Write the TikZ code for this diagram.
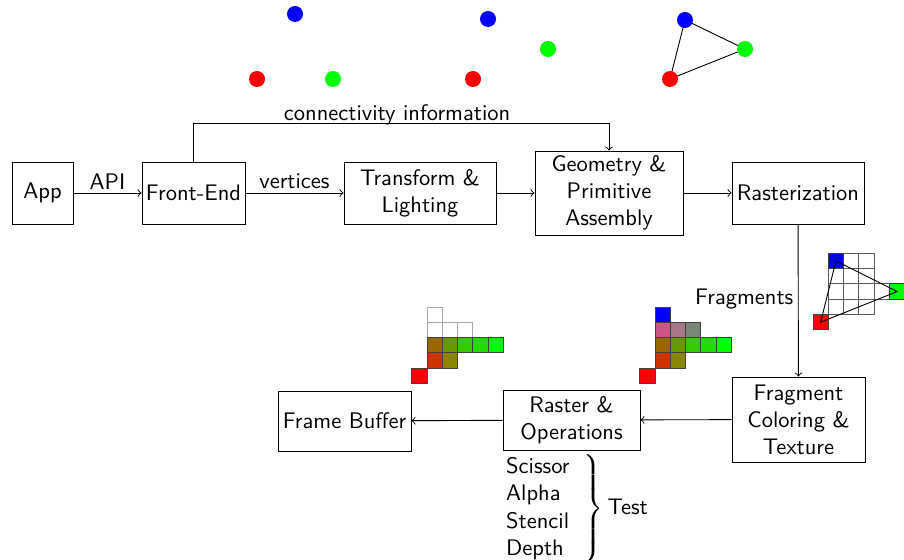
\documentclass[tikz,border=0pt]{standalone}
\renewcommand{\familydefault}{\sfdefault}
\usetikzlibrary{calc}
\definecolor{cPink}{RGB}{204,85,140}
\definecolor{cMauve}{RGB}{170,119,136}
\definecolor{cGrayGreen}{RGB}{119,136,119}
\definecolor{cBrown}{RGB}{153,102,0}
\definecolor{cOliveGreen}{RGB}{102,153,0}
\definecolor{cGreenA}{RGB}{51,204,0}
\definecolor{cGreenB}{RGB}{34,221,0}
\definecolor{cGreenC}{RGB}{0,255,0}
\definecolor{cOrange}{RGB}{204,51,0}
\definecolor{cOlive}{RGB}{136,136,0}
\definecolor{cRed}{RGB}{255,0,0}
\definecolor{cBlue}{RGB}{0,0,255}
\newcommand{\pxcell}[3]{\filldraw[fill=#3,draw=black!75] ({#1*15.3},{#2*15.3}) rectangle ++(15.3,15.3);}
\newcommand{\pxempty}[2]{\draw[draw=black!35] ({#1*15.3},{#2*15.3}) rectangle ++(15.3,15.3);}
\newcommand{\pxgrid}[2]{\draw[draw=black!65] ({#1*15.3},{#2*15.3}) rectangle ++(15.3,15.3);}
\begin{document}
\begin{tikzpicture}[x=0.4444pt,y=-0.4444pt,
  stage/.style={draw,align=center,inner sep=0pt},
  conn/.style={->},
  dotv/.style={circle,inner sep=0pt,minimum size={16*0.4444pt}}]
\useasboundingbox (0,0) rectangle (904,560);

% vertex clusters
\node[dotv,fill=cBlue] (b1) at (295,14) {};
\node[dotv,fill=cRed] (r1) at (257,79) {};
\node[dotv,fill=cGreenC] (g1) at (333,79) {};
\node[dotv,fill=cBlue] (b2) at (488,19) {};
\node[dotv,fill=cGreenC] (g2) at (548,49) {};
\node[dotv,fill=cRed] (r2) at (473,79) {};
\coordinate (b3c) at (685,20);
\coordinate (g3c) at (745,49);
\coordinate (r3c) at (670,79);
\draw (b3c) -- (g3c) -- (r3c) -- cycle;
\node[dotv,fill=cBlue] (b3) at (b3c) {};
\node[dotv,fill=cGreenC] (g3) at (g3c) {};
\node[dotv,fill=cRed] (r3) at (r3c) {};

% stages
\node[stage,minimum width={61*0.4444pt},minimum height={62*0.4444pt}] (app) at (42.5,193) {App};
\node[stage,minimum width={103*0.4444pt},minimum height={62*0.4444pt}] (fe) at (193.5,193) {Front-End};
\node[stage,minimum width={152*0.4444pt},minimum height={62*0.4444pt}] (tl) at (420,193) {Transform \&\\Lighting};
\node[stage,minimum width={148*0.4444pt},minimum height={84*0.4444pt}] (geo) at (609,193) {Geometry \&\\Primitive\\Assembly};
\node[stage,minimum width={132*0.4444pt},minimum height={62*0.4444pt}] (ras) at (798,193) {Rasterization};
\node[stage,minimum width={133*0.4444pt},minimum height={85*0.4444pt}] (frag) at (798.5,419.5) {Fragment\\Coloring \&\\Texture};
\node[stage,minimum width={137*0.4444pt},minimum height={60*0.4444pt}] (rop) at (571.5,420) {Raster \&\\Operations};
\node[stage,minimum width={133*0.4444pt},minimum height={60*0.4444pt}] (fb) at (344.5,421) {Frame Buffer};

% connectors
\draw[conn] (app) -- node[above,inner sep=1.5pt] (lapi) {API} (fe);
\draw[conn] (fe) -- node[above,inner sep=1.5pt] (lvert) {vertices} (tl);
\draw[conn] (tl) -- (geo);
\draw[conn] (geo) -- (ras);
\coordinate (cup) at ($(fe.north)+(0,-38)$);
\draw[conn] (fe.north) -- (cup) -| node[pos=0.245,above,inner sep=0pt,yshift=-0.8pt] (lconn) {connectivity information} (geo.north);
\draw[conn] (ras) -- node[pos=0.49,left,inner sep=2pt] (lfrag) {Fragments} (frag);
\draw[conn] (frag) -- (rop);
\draw[conn] (rop) -- (fb);

% tests
\node[anchor=west,inner sep=0pt] (tests) at (503,509) {$\left.\begin{tabular}{@{}l}Scissor\\[0.2pt]Alpha\\[0.2pt]Stencil\\[0.2pt]Depth\end{tabular}\right\}$\hspace{0.2em}Test};

% rasterization grid
\begin{scope}[shift={(828.3,253.3)}]
\foreach \c in {0,1,2} {\foreach \r in {1,2,3} {\pxgrid{\c}{\r}}}
\pxgrid{3}{2}
\pxgrid{1}{0}
\pxgrid{2}{0}
\pxcell{0}{0}{cBlue}
\pxcell{4}{2}{cGreenC}
\pxcell{-1}{4}{cRed}
\coordinate (tb) at (7.65,7.65);
\coordinate (tg) at ({4*15.3+7.65},{2*15.3+7.65});
\coordinate (tr) at ({-15.3+7.65},{4*15.3+7.65});
\draw (tb) -- (tg) -- (tr) -- cycle;
\end{scope}

% fragment grid
\begin{scope}[shift={(655,307)}]
\pxcell{0}{0}{cBlue}
\pxcell{0}{1}{cPink}
\pxcell{1}{1}{cMauve}
\pxcell{2}{1}{cGrayGreen}
\pxcell{0}{2}{cBrown}
\pxcell{1}{2}{cOliveGreen}
\pxcell{2}{2}{cGreenA}
\pxcell{3}{2}{cGreenB}
\pxcell{4}{2}{cGreenC}
\pxcell{0}{3}{cOrange}
\pxcell{1}{3}{cOlive}
\pxcell{-1}{4}{cRed}
\end{scope}

% frame buffer grid
\begin{scope}[shift={(427,307)}]
\pxempty{0}{0}
\pxempty{0}{1}
\pxempty{1}{1}
\pxempty{2}{1}
\pxcell{0}{2}{cBrown}
\pxcell{1}{2}{cOliveGreen}
\pxcell{2}{2}{cGreenA}
\pxcell{3}{2}{cGreenB}
\pxcell{4}{2}{cGreenC}
\pxcell{0}{3}{cOrange}
\pxcell{1}{3}{cOlive}
\pxcell{-1}{4}{cRed}
\end{scope}
\end{tikzpicture}
\end{document}
